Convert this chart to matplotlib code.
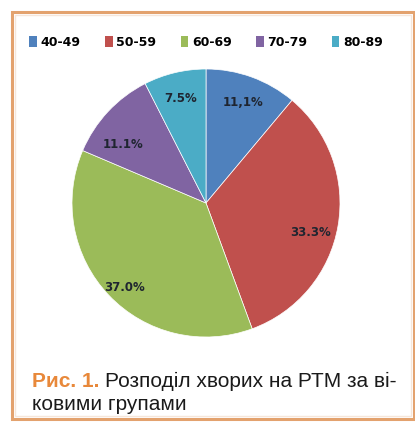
import numpy as np
import matplotlib
matplotlib.use("Agg")
import matplotlib.pyplot as plt
from matplotlib.patches import Rectangle, Patch

# Дані діаграми
groups = ['40-49', '50-59', '60-69', '70-79', '80-89']
shares = [11.1, 33.3, 37.0, 11.1, 7.5]
pct_labels = ['11,1%', '33.3%', '37.0%', '11.1%', '7.5%']
colors = ['#4F81BD', '#C0504D', '#9BBB59', '#8064A2', '#4BACC6']

# зсув підписів (кут у градусах, відстань від центру)
label_shift = [(0, 0.8), (-6, 0.81), (2.5, 0.88), (8, 0.76), (0, 0.8)]

W, H = 415, 422
fig = plt.figure(figsize=(W / 100, H / 100), dpi=100)
fig.patch.set_facecolor('white')

# Рамка
fig.patches.append(Rectangle((12 / W, 3 / H), (W - 13) / W, (H - 15) / H,
                             transform=fig.transFigure, fill=False,
                             edgecolor='#E3A26E', linewidth=2.2))
fig.patches.append(Rectangle((15 / W, 6 / H), (W - 19) / W, (H - 21) / H,
                             transform=fig.transFigure, fill=False,
                             edgecolor='#F6E6DA', linewidth=1.0))

# Кругова діаграма
r = 134
cx, cy = 206, 203
ax = fig.add_axes([(cx - r) / W, (H - cy - r) / H, 2 * r / W, 2 * r / H])
wedges, _ = ax.pie(shares, colors=colors, startangle=90, counterclock=False,
                   wedgeprops=dict(linewidth=0.5, edgecolor='white'))
for w, lab, (da, d) in zip(wedges, pct_labels, label_shift):
    ang = np.deg2rad((w.theta1 + w.theta2) / 2 + da)
    ax.text(d * np.cos(ang), d * np.sin(ang), lab, ha='center', va='center',
            fontsize=8.5, fontweight='bold', color='#1f2530')
ax.set_xlim(-1, 1)
ax.set_ylim(-1, 1)
ax.set_aspect('equal')
ax.axis('off')

# Легенда
handles = [Patch(facecolor=c, edgecolor='none') for c in colors]
fig.legend(handles, groups, loc='center', bbox_to_anchor=(206 / W, 1 - 42 / H),
           ncol=5, frameon=False,
           prop=dict(weight='bold', size=9),
           handlelength=0.6, handleheight=1.0, handletextpad=0.3,
           columnspacing=1.95)

# Підпис
cap_font = ['Liberation Sans', 'DejaVu Sans']
fig.text(32 / W, 1 - 387 / H, 'Рис. 1.', fontsize=15, fontweight='bold',
         color='#E8883A', family=cap_font, va='baseline')
fig.text(105 / W, 1 - 387 / H, 'Розподіл хворих на РТМ за ві-', fontsize=15,
         color='#1a1a1a', family=cap_font, va='baseline')
fig.text(32 / W, 1 - 410 / H, 'ковими групами', fontsize=15,
         color='#1a1a1a', family=cap_font, va='baseline')

fig.savefig('out.png', dpi=100)
